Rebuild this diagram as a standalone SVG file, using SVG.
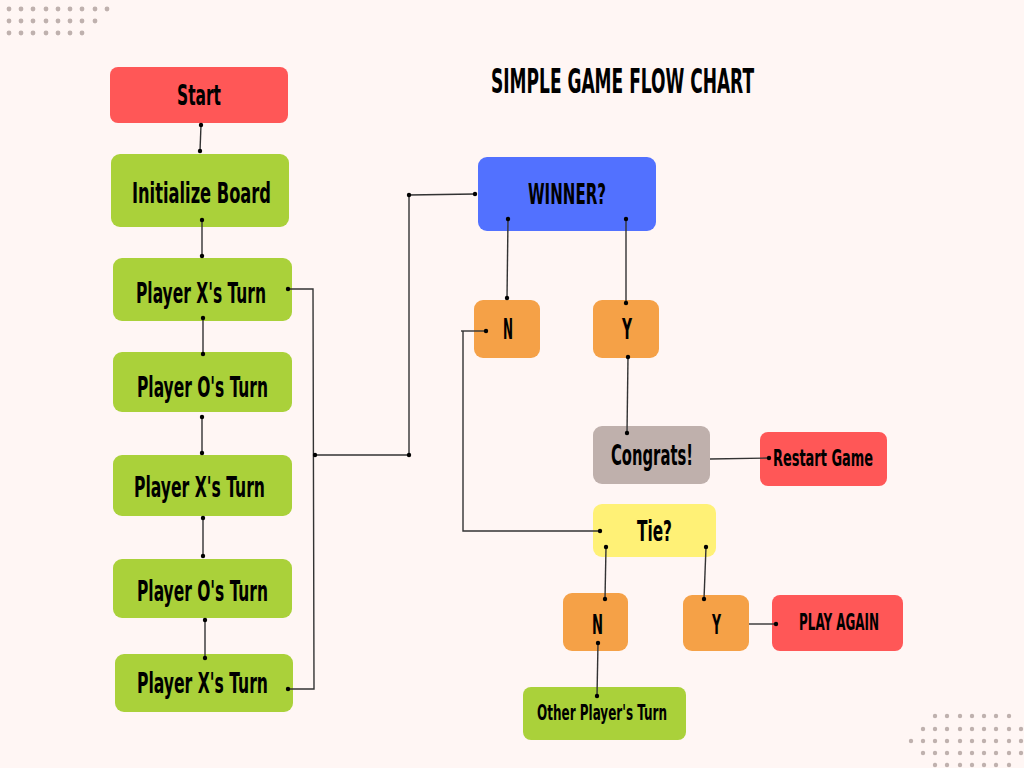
<svg xmlns="http://www.w3.org/2000/svg" width="1024" height="768" viewBox="0 0 1024 768">
<defs>
<style>
.t{font-family:"DejaVu Sans Condensed","Liberation Sans Narrow","Liberation Sans",sans-serif;font-weight:bold;fill:#000;text-anchor:middle}
.ln{fill:none;stroke:#333;stroke-width:1.4}
.dt{fill:#000}
.bg{fill:#bfb1ae}
.red{fill:#ff5757}
.grn{fill:#aad13a}
.org{fill:#f5a147}
</style>
<g id="dotpat">
<circle cx="0" cy="0" r="2.4"/>
</g>
</defs>
<rect width="1024" height="768" fill="#fff6f4"/>
<g id="decor" class="bg">
<circle cx="9" cy="9" r="2.4"/><circle cx="21" cy="9" r="2.4"/><circle cx="33" cy="9" r="2.4"/><circle cx="46" cy="9" r="2.4"/><circle cx="58" cy="9" r="2.4"/><circle cx="70" cy="9" r="2.4"/><circle cx="82" cy="9" r="2.4"/><circle cx="95" cy="9" r="2.4"/><circle cx="107" cy="9" r="2.4"/>
<circle cx="9" cy="21" r="2.4"/><circle cx="21" cy="21" r="2.4"/><circle cx="33" cy="21" r="2.4"/><circle cx="46" cy="21" r="2.4"/><circle cx="58" cy="21" r="2.4"/><circle cx="70" cy="21" r="2.4"/><circle cx="82" cy="21" r="2.4"/><circle cx="95" cy="21" r="2.4"/>
<circle cx="9" cy="33" r="2.4"/><circle cx="21" cy="33" r="2.4"/><circle cx="33" cy="33" r="2.4"/><circle cx="46" cy="33" r="2.4"/><circle cx="58" cy="33" r="2.4"/><circle cx="70" cy="33" r="2.4"/><circle cx="82" cy="33" r="2.4"/>
<circle cx="935" cy="716" r="2.2"/><circle cx="947" cy="716" r="2.2"/><circle cx="960" cy="716" r="2.2"/><circle cx="972" cy="716" r="2.2"/><circle cx="984" cy="716" r="2.2"/><circle cx="996" cy="716" r="2.2"/><circle cx="1009" cy="716" r="2.2"/>
<circle cx="923" cy="729" r="2.2"/><circle cx="935" cy="729" r="2.2"/><circle cx="947" cy="729" r="2.2"/><circle cx="960" cy="729" r="2.2"/><circle cx="972" cy="729" r="2.2"/><circle cx="984" cy="729" r="2.2"/><circle cx="996" cy="729" r="2.2"/><circle cx="1009" cy="729" r="2.2"/><circle cx="1021" cy="729" r="2.2"/>
<circle cx="911" cy="741" r="2.2"/><circle cx="923" cy="741" r="2.2"/><circle cx="935" cy="741" r="2.2"/><circle cx="947" cy="741" r="2.2"/><circle cx="960" cy="741" r="2.2"/><circle cx="972" cy="741" r="2.2"/><circle cx="984" cy="741" r="2.2"/><circle cx="996" cy="741" r="2.2"/><circle cx="1009" cy="741" r="2.2"/><circle cx="1021" cy="741" r="2.2"/>
<circle cx="923" cy="753" r="2.2"/><circle cx="935" cy="753" r="2.2"/><circle cx="947" cy="753" r="2.2"/><circle cx="960" cy="753" r="2.2"/><circle cx="972" cy="753" r="2.2"/><circle cx="984" cy="753" r="2.2"/><circle cx="996" cy="753" r="2.2"/><circle cx="1009" cy="753" r="2.2"/><circle cx="1021" cy="753" r="2.2"/>
<circle cx="935" cy="765" r="2.2"/><circle cx="947" cy="765" r="2.2"/><circle cx="960" cy="765" r="2.2"/><circle cx="972" cy="765" r="2.2"/><circle cx="984" cy="765" r="2.2"/><circle cx="996" cy="765" r="2.2"/><circle cx="1009" cy="765" r="2.2"/>
</g>
<text id="title" class="t" x="622.5" y="93" font-size="33" textLength="263" lengthAdjust="spacingAndGlyphs">SIMPLE GAME FLOW CHART</text>
<g id="start"><rect class="red" x="110" y="67" width="178" height="56" rx="8"/><text class="t" x="199" y="105" font-size="29" textLength="44" lengthAdjust="spacingAndGlyphs">Start</text></g>
<g id="init"><rect class="grn" x="111" y="154" width="178" height="73" rx="9"/><text class="t" x="201.5" y="203" font-size="29" textLength="139" lengthAdjust="spacingAndGlyphs">Initialize Board</text></g>
<g id="px1"><rect class="grn" x="113" y="258" width="179" height="63" rx="9"/><text class="t" x="201" y="303" font-size="28" textLength="130" lengthAdjust="spacingAndGlyphs">Player X's Turn</text></g>
<g id="po1"><rect class="grn" x="113" y="352" width="179" height="60" rx="9"/><text class="t" x="202.5" y="397" font-size="28" textLength="131" lengthAdjust="spacingAndGlyphs">Player O's Turn</text></g>
<g id="px2"><rect class="grn" x="113" y="455" width="179" height="61" rx="9"/><text class="t" x="199.5" y="497" font-size="28" textLength="131" lengthAdjust="spacingAndGlyphs">Player X's Turn</text></g>
<g id="po2"><rect class="grn" x="113" y="559" width="179" height="59" rx="9"/><text class="t" x="202.5" y="601" font-size="28" textLength="131" lengthAdjust="spacingAndGlyphs">Player O's Turn</text></g>
<g id="px3"><rect class="grn" x="115" y="654" width="178" height="58" rx="9"/><text class="t" x="202.5" y="693" font-size="28" textLength="131" lengthAdjust="spacingAndGlyphs">Player X's Turn</text></g>
<g id="winner"><rect x="478" y="157" width="178" height="74" rx="9" fill="#5271ff"/><text class="t" x="567" y="204" font-size="29" textLength="78" lengthAdjust="spacingAndGlyphs">WINNER?</text></g>
<g id="n1"><rect class="org" x="474" y="300" width="66" height="58" rx="9"/><text class="t" x="508" y="339" font-size="29" textLength="10" lengthAdjust="spacingAndGlyphs">N</text></g>
<g id="y1"><rect class="org" x="593" y="300" width="66" height="58" rx="9"/><text class="t" x="627" y="339" font-size="29" textLength="10" lengthAdjust="spacingAndGlyphs">Y</text></g>
<g id="congrats"><rect x="593" y="426" width="117" height="58" rx="9" fill="#bfb0ac"/><text class="t" x="652" y="465" font-size="28" textLength="82" lengthAdjust="spacingAndGlyphs">Congrats!</text></g>
<g id="restart"><rect class="red" x="760" y="432" width="127" height="54" rx="8"/><text class="t" x="823" y="466" font-size="23" textLength="100" lengthAdjust="spacingAndGlyphs">Restart Game</text></g>
<g id="tie"><rect x="593" y="504" width="123" height="53" rx="9" fill="#fff176"/><text class="t" x="654.5" y="541" font-size="29" textLength="35" lengthAdjust="spacingAndGlyphs">Tie?</text></g>
<g id="n2"><rect class="org" x="563" y="593" width="65" height="58" rx="9"/><text class="t" x="597.5" y="634" font-size="27" textLength="11" lengthAdjust="spacingAndGlyphs">N</text></g>
<g id="y2"><rect class="org" x="683" y="595" width="66" height="56" rx="9"/><text class="t" x="716.5" y="634" font-size="27" textLength="9" lengthAdjust="spacingAndGlyphs">Y</text></g>
<g id="playagain"><rect class="red" x="772" y="595" width="131" height="56" rx="8"/><text class="t" x="839" y="630" font-size="23" textLength="80" lengthAdjust="spacingAndGlyphs">PLAY AGAIN</text></g>
<g id="other"><rect class="grn" x="523" y="687" width="163" height="53" rx="8"/><text class="t" x="602" y="720" font-size="22" textLength="130" lengthAdjust="spacingAndGlyphs">Other Player's Turn</text></g>
<g id="connectors">
<path class="ln" d="M201 125 L200 151"/>
<path class="ln" d="M202 220 L202 256"/>
<path class="ln" d="M203 318 L203 354"/>
<path class="ln" d="M202 417 L202 453"/>
<path class="ln" d="M203 518 L203 556"/>
<path class="ln" d="M205 620 L205 658"/>
<path class="ln" d="M288 289 L313 289 L314 689 L288 689"/>
<path class="ln" d="M315 455 L409 455 L409 195 L475 194"/>
<path class="ln" d="M508 219 L507 298"/>
<path class="ln" d="M626 219 L626 303"/>
<path class="ln" d="M486 331 L461 331"/>
<path class="ln" d="M463 331 L463 531 L600 531"/>
<path class="ln" d="M628 357 L627 433"/>
<path class="ln" d="M710 459 L769 458"/>
<path class="ln" d="M606 547 L605 599"/>
<path class="ln" d="M706 547 L704 599"/>
<path class="ln" d="M749 624 L776 624"/>
<path class="ln" d="M598 643 L597 696"/>
<g class="dt">
<circle cx="201" cy="125" r="2.2"/><circle cx="200" cy="151" r="2.2"/>
<circle cx="202" cy="220" r="2.2"/><circle cx="202" cy="256" r="2.2"/>
<circle cx="203" cy="318" r="2.2"/><circle cx="203" cy="354" r="2.2"/>
<circle cx="202" cy="417" r="2.2"/><circle cx="202" cy="453" r="2.2"/>
<circle cx="203" cy="518" r="2.2"/><circle cx="203" cy="556" r="2.2"/>
<circle cx="205" cy="620" r="2.2"/><circle cx="205" cy="658" r="2.2"/>
<circle cx="288" cy="289" r="2.2"/><circle cx="288" cy="689" r="2.2"/>
<circle cx="315" cy="455" r="2.2"/><circle cx="409" cy="455" r="2.2"/><circle cx="409" cy="195" r="2.2"/><circle cx="475" cy="194" r="2.2"/>
<circle cx="508" cy="219" r="2.2"/><circle cx="507" cy="298" r="2.2"/>
<circle cx="626" cy="219" r="2.2"/><circle cx="626" cy="303" r="2.2"/>
<circle cx="486" cy="331" r="2.2"/>
<circle cx="600" cy="531" r="2.2"/>
<circle cx="628" cy="357" r="2.2"/><circle cx="627" cy="433" r="2.2"/>
<circle cx="769" cy="458" r="2.2"/>
<circle cx="606" cy="547" r="2.2"/><circle cx="605" cy="599" r="2.2"/>
<circle cx="706" cy="547" r="2.2"/><circle cx="704" cy="599" r="2.2"/>
<circle cx="776" cy="624" r="2.2"/>
<circle cx="598" cy="643" r="2.2"/><circle cx="597" cy="696" r="2.2"/>
</g>
</g>
</svg>
